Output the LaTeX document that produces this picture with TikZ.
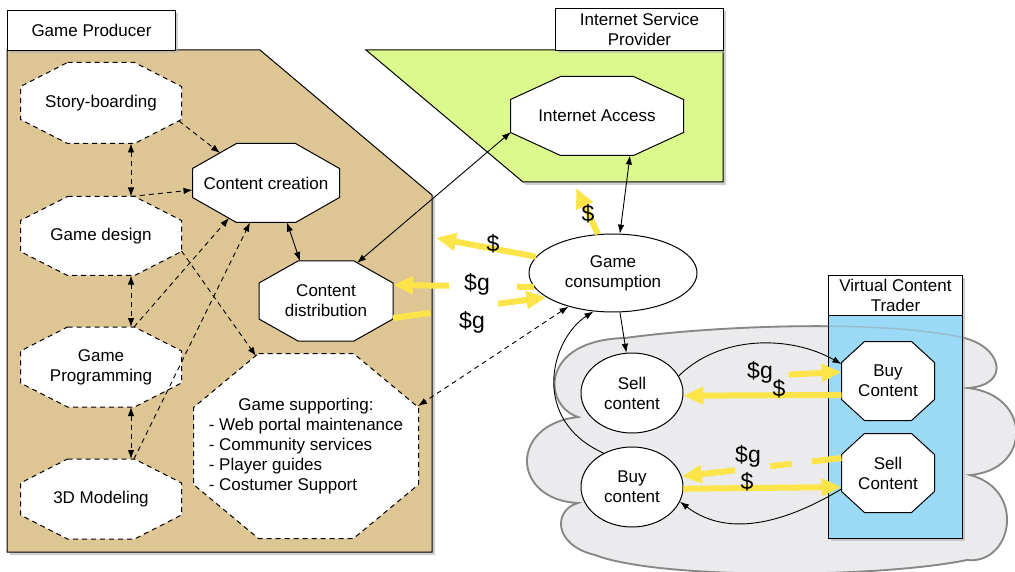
\documentclass[tikz,border=0pt]{standalone}
\usepackage{fontspec}
\setmainfont{Liberation Sans}
\usetikzlibrary{shapes.geometric,arrows.meta,calc}
\definecolor{prodtan}{RGB}{222,197,148}
\definecolor{ispgreen}{RGB}{219,249,140}
\definecolor{vctblue}{RGB}{155,218,247}
\definecolor{cloudfill}{RGB}{235,235,237}
\definecolor{cloudline}{RGB}{135,135,135}
\definecolor{money}{RGB}{253,228,72}
\definecolor{shadowgray}{RGB}{175,175,175}
% #1 style, #2 x, #3 y, #4 half width, #5 half height, #6 chamfer x, #7 chamfer y
\newcommand\octshape[7][]{%
  \filldraw[octline,#1] (#2-#4+#6,#3-#5) -- (#2+#4-#6,#3-#5) -- (#2+#4,#3-#5+#7) -- (#2+#4,#3+#5-#7)
    -- (#2+#4-#6,#3+#5) -- (#2-#4+#6,#3+#5) -- (#2-#4,#3+#5-#7) -- (#2-#4,#3-#5+#7) -- cycle;}
\begin{document}
\begin{tikzpicture}[x=1pt,y=-1pt,
  >={Latex[length=9pt,width=6.5pt]},
  txt/.style={font=\fontsize{17}{20}\selectfont, align=center, inner sep=0pt},
  tab/.style={txt, draw, fill=white, line width=1pt, anchor=north west},
  octline/.style={fill=white, draw=black, line width=1pt},
  dashedge/.style={dash pattern=on 5pt off 4pt},
  ell/.style={txt, ellipse, draw, fill=white, line width=1pt},
  arr/.style={line width=0.9pt, ->},
  darr/.style={line width=0.9pt, <->},
  dsh/.style={dash pattern=on 5pt off 4pt},
  cash/.style={line width=6pt, draw=money, -{Triangle[length=20pt,width=17pt]}},
  cashlbl/.style={font=\fontsize{23}{23}\selectfont, inner sep=0pt},
  shade/.style={fill=shadowgray, opacity=0.6},
]
\useasboundingbox (0,0) rectangle (1015,572);

% ---- panels ----
\fill[shade] (10,53) -- (263,53) -- (435,198) -- (435,555) -- (10,555) -- cycle;
\filldraw[fill=prodtan, line width=1pt] (7,50) -- (260,50) -- (432,195) -- (432,552) -- (7,552) -- cycle;
\fill[shade] (10,13) rectangle (178,53);
\node[tab, minimum width=168pt, minimum height=40pt] (prodtab) at (7,10) {Game Producer};

\fill[shade] (369,53) -- (726,53) -- (726,185) -- (526,185) -- cycle;
\filldraw[fill=ispgreen, line width=1pt] (366,50) -- (723,50) -- (723,182) -- (523,182) -- cycle;
\fill[shade] (558,11) rectangle (726,53);
\node[tab, minimum width=168pt, minimum height=42pt] (isptab) at (555,8) {Internet Service\\Provider};
\coordinate (ispin) at (576,188);

% cloud
\def\cloudpath{(578,417) .. controls (542,405) and (540,340) .. (625,338)
  .. controls (720,325) and (880,320) .. (960,337)
  .. controls (1002,345) and (1012,385) .. (968,388)
  .. controls (1032,395) and (1032,470) .. (970,475)
  .. controls (1027,490) and (1012,565) .. (967,560)
  .. controls (880,578) and (660,580) .. (595,555)
  .. controls (553,545) and (553,510) .. (578,503)
  .. controls (512,500) and (508,425) .. (578,417) -- cycle}
\filldraw[fill=cloudfill, draw=cloudline, line width=1.8pt] \cloudpath;

\fill[shade] (831,278) rectangle (965,541);
\filldraw[fill=vctblue, line width=1pt] (828,315) rectangle (962,538);
\node[tab, minimum width=134pt, minimum height=40pt] (vcttab) at (828,275) {Virtual Content\\Trader};
\draw[draw=cloudline, line width=1.5pt, opacity=0.35] \cloudpath;

% ---- octagon outlines ----
\octshape[dashedge]{101}{103}{80.5}{40.5}{47}{24}
\octshape[dashedge]{101}{236}{80.5}{39.5}{47}{24}
\octshape[dashedge]{101}{367}{80.5}{40}{47}{24}
\octshape[dashedge]{101}{499}{80.5}{40}{47}{24}
\octshape{266}{183}{73.5}{39.5}{44}{25}
\octshape{326}{301}{67}{40}{39}{22}
\octshape[dashedge]{306}{446}{112.5}{92.5}{65}{54}
\octshape{597}{116}{86.5}{39.5}{50}{23}
\octshape{888}{381}{46.5}{39.5}{23}{21}
\octshape{888}{473}{46.5}{39.5}{23}{21}

% ---- nodes ----
\node[txt] (sb) at (101,103) {Story-boarding};
\node[txt] (gd) at (101,236) {Game design};
\node[txt] (gpg) at (101,367) {Game\\Programming};
\node[txt] (m3d) at (101,499) {3D Modeling};
\node[txt] (cc) at (266,183) {Content creation};
\node[txt] (cd) at (326,301) {Content\\distribution};
\node[txt] (gs) at (306,446)
  {\begin{tabular}{@{}l@{}}\multicolumn{1}{@{}c@{}}{Game supporting:}\\- Web portal maintenance\\- Community services\\- Player guides\\- Costumer Support\end{tabular}};
\node[txt] (ia) at (597,116) {Internet Access};
\node[ell, minimum width=168pt, minimum height=78pt] (gc) at (613,273) {Game\\consumption};
\node[ell, minimum width=102pt, minimum height=80pt] (sc) at (632,393) {Sell\\content};
\node[ell, minimum width=102pt, minimum height=80pt] (bc) at (632,487) {Buy\\content};
\node[txt] (vb) at (888,381) {Buy\\Content};
\node[txt] (vs) at (888,473) {Sell\\Content};

% ---- black connectors ----
\draw[arr,dsh] ($(sb.center)+(78,18)$) -- ($(cc.center)+(-46,-30)$);
\draw[darr,dsh] ($(sb.center)+(30,40.5)$) -- ($(gd.center)+(30,-39.5)$);
\draw[arr,dsh] ($(gd.center)+(30,-39.5)$) -- ($(cc.center)+(-73.5,7)$);
\draw[arr,dsh] ($(gd.center)+(80.5,15)$) -- ($(gs.center)+(-50,-90)$);
\draw[darr,dsh] ($(gd.center)+(30,39.5)$) -- ($(gpg.center)+(30,-40)$);
\draw[darr,dsh] ($(gpg.center)+(30,40)$) -- ($(m3d.center)+(30,-40)$);
\draw[arr,dsh] ($(gpg.center)+(33,-40)$) -- ($(cc.center)+(-37,35)$);
\draw[arr,dsh] ($(m3d.center)+(33,-40)$) -- ($(cc.center)+(-16,39.5)$);
\draw[darr] ($(cc.center)+(21,39.5)$) -- ($(cd.center)+(-26,-40)$);
\draw[darr] ($(ia.center)+(-86,16)$) -- ($(cd.center)+(31,-38)$);
\draw[darr] ($(ia.center)+(33,39.5)$) -- (gc.80);
\draw[arr] (gc.-80) -- (sc.98);
\draw[arr] (bc.130) .. controls (530,420) and (550,340) .. (gc.243);
\draw[darr,dsh] (gc.217) -- ($(gs.center)+(112,-40)$);
\draw[arr] (sc.20) .. controls (720,335) and (790,335) .. ($(vb.center)+(-46.5,-17)$);
\draw[arr] ($(vs.center)+(-46.5,16)$) .. controls (790,520) and (730,540) .. (bc.-17);

% ---- money flows ----
\draw[cash] (gc.111) -- (ispin);
\node[cashlbl] (l1) at (588,214) {\$};
\draw[cash] (gc.168) -- (436,238);
\node[cashlbl] (l2) at (493,244) {\$};
\draw[cash, dash pattern=on 17pt off 68pt on 200pt] (gc.190) -- ($(cd.center)+(67,-16)$);
\node[cashlbl] (l3) at (477,284) {\$g};
\draw[cash, dash pattern=on 38pt off 68pt on 200pt] ($(cd.center)+(67,17)$) -- (gc.200);
\node[cashlbl] (l4) at (472,322) {\$g};
\draw[cash, dash pattern=on 0pt off 108pt on 200pt] (sc.15) -- ($(vb.center)+(-46.5,-9)$);
\node[cashlbl] (l5) at (760,372) {\$g};
\draw[cash] ($(vb.center)+(-46.5,14)$) -- (sc.-3);
\node[cashlbl] (l6) at (779,389) {\$};
\draw[cash, dash pattern=on 30pt off 20pt on 22pt off 35pt on 200pt] ($(vs.center)+(-46.5,-15)$) -- (bc.12);
\node[cashlbl] (l7) at (748,456) {\$g};
\draw[cash] (bc.-2) -- ($(vs.center)+(-46.5,14)$);
\node[cashlbl] (l8) at (747,482) {\$};
\end{tikzpicture}
\end{document}
